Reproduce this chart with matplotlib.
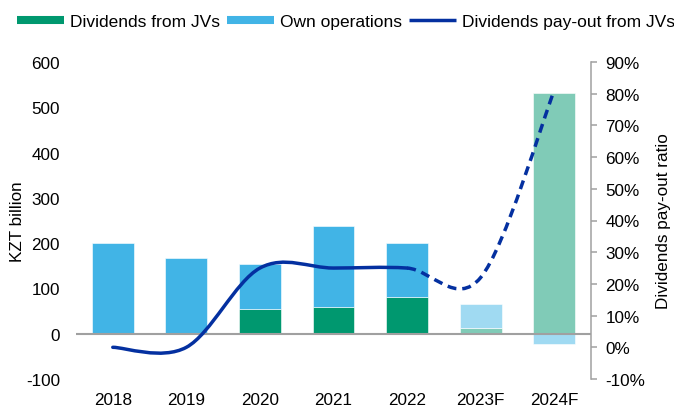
import numpy as np
import matplotlib
matplotlib.use("Agg")
import matplotlib.pyplot as plt
from matplotlib.path import Path
from matplotlib.patches import PathPatch
from matplotlib.lines import Line2D
from matplotlib.ticker import FuncFormatter

plt.rcParams['font.family'] = ['Liberation Sans', 'DejaVu Sans']
plt.rcParams['axes.unicode_minus'] = False

years = ['2018', '2019', '2020', '2021', '2022', '2023F', '2024F']
div_jv = [0, 0, 55, 58, 81, 12, 531]          # KZT bn
own_ops = [200, 167, 98, 179, 119, 54, -23]   # KZT bn
payout = [0, 0, 25, 25, 25, 22, 81]           # %
n_actual = 5  # first 5 are actual, rest forecast

green = '#00986F'
blue = '#41B4E6'
green_f = '#80CBB7'
blue_f = '#A0DAF2'
navy = '#0430A0'
grey = '#A0A0A0'
fs = 12.3

fig = plt.figure(figsize=(6.74, 4.06), dpi=100)
ax = fig.add_axes([76/674, 1-380/406, 515/674, 317/406])
ax2 = ax.twinx()

x = np.arange(len(years))
jv = np.array(div_jv, dtype=float)
own = np.array(own_ops, dtype=float)
bottom_own = np.where(own >= 0, jv, 0)

c_jv = [green if i < n_actual else green_f for i in x]
c_own = [blue if i < n_actual else blue_f for i in x]

w = 0.57
ax.bar(x, jv, w, color=c_jv, edgecolor='white', linewidth=0.4, zorder=2)
ax.bar(x, own, w, bottom=bottom_own, color=c_own, edgecolor='white', linewidth=0.4, zorder=2)
ax.axhline(0, color=grey, lw=1.5, zorder=3)

ax.set_xlim(-0.5, 6.5)
ax.set_ylim(-100, 600)
ax.set_yticks(range(-100, 601, 100))
ax.set_xticks(x)
ax.set_xticklabels(years)
for s in ax.spines.values():
    s.set_visible(False)
ax.tick_params(axis='y', length=0, pad=11.5, labelsize=fs)
ax.tick_params(axis='x', length=0, pad=9.2, labelsize=fs)
ax.set_ylabel('KZT billion', fontsize=fs)
ax.yaxis.set_label_coords(-0.1, 0.5)


# smoothed line like excel (bezier through the points)
def bezier_path(xs, ys):
    pts = list(zip(xs, ys))
    verts = [pts[0]]
    codes = [Path.MOVETO]
    for i in range(len(pts) - 1):
        p0 = pts[i - 1] if i > 0 else pts[i]
        p1 = pts[i]
        p2 = pts[i + 1]
        p3 = pts[i + 2] if i + 2 < len(pts) else pts[i + 1]
        c1 = (p1[0] + (p2[0] - p0[0]) / 6, p1[1] + (p2[1] - p0[1]) / 6)
        c2 = (p2[0] - (p3[0] - p1[0]) / 6, p2[1] - (p3[1] - p1[1]) / 6)
        verts += [c1, c2, p2]
        codes += [Path.CURVE4] * 3
    return verts, codes


verts, codes = bezier_path(x, payout)
k = 1 + 3 * (n_actual - 1)
solid = Path(verts[:k], codes[:k])
dashed = Path([verts[k - 1]] + verts[k:], [Path.MOVETO] + codes[k:])
ax2.add_patch(PathPatch(solid, fill=False, edgecolor=navy, lw=2.5, capstyle='round', zorder=4))
ax2.add_patch(PathPatch(dashed, fill=False, edgecolor=navy, lw=2.5, linestyle=(0, (2.6, 1.7)), zorder=4))

ax2.set_ylim(-10, 90)
ax2.set_yticks(range(-10, 91, 10))
ax2.yaxis.set_major_formatter(FuncFormatter(lambda v, p: f'{v:.0f}%'))
for side in ['top', 'left', 'bottom']:
    ax2.spines[side].set_visible(False)
ax2.spines['right'].set_color(grey)
ax2.spines['right'].set_linewidth(1.1)
ax2.tick_params(axis='y', direction='out', length=4.3, width=1.1, color=grey, pad=6, labelsize=fs)
ax2.set_ylabel('Dividends pay-out ratio', fontsize=fs, rotation=90)
ax2.yaxis.set_label_coords(1.126, 0.5)

handles = [
    Line2D([], [], color=green, lw=5.8, solid_capstyle='butt'),
    Line2D([], [], color=blue, lw=5.8, solid_capstyle='butt'),
    Line2D([], [], color=navy, lw=2.5, solid_capstyle='butt'),
]
labels = ['Dividends from JVs', 'Own operations', 'Dividends pay-out from JVs']
fig.legend(handles, labels, loc='center left', bbox_to_anchor=(17/674, 1-22/406),
           ncol=3, frameon=False, fontsize=12.5, handlelength=2.7, handletextpad=0.35,
           columnspacing=0.4, borderpad=0, borderaxespad=0)

fig.savefig('out.png', dpi=100)
